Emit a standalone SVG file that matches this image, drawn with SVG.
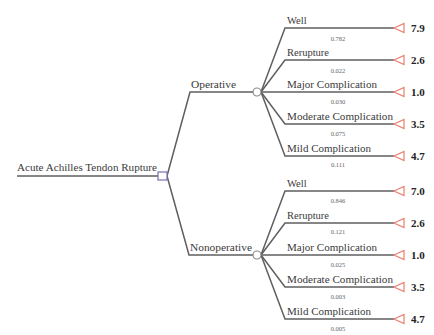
<svg xmlns="http://www.w3.org/2000/svg" width="434" height="335" viewBox="0 0 434 335">
<style>
.ln{fill:none;stroke:#5f5f5f;stroke-width:1.5}
.lbl{font-family:"Liberation Serif",serif;font-size:10.5px;fill:#3a3a3a}
.pr{font-family:"Liberation Serif",serif;font-size:6.5px;fill:#666;text-anchor:middle}
.val{font-family:"Liberation Serif",serif;font-size:11px;font-weight:bold;fill:#222}
.term{fill:#fff;stroke:#e8806f;stroke-width:1.2}
.chance{fill:#fff;stroke:#888;stroke-width:1.2}
.dec{fill:#fff;stroke:#7a6fb0;stroke-width:1.2}
</style>
<rect width="434" height="335" fill="#fff"/>
<g id="connectors">
<path class="ln" d="M17 176H158"/>
<path class="ln" d="M167 176L190 92H253"/>
<path class="ln" d="M167 176L189 255H253"/>
<path class="ln" d="M261 92L285 28H394"/>
<path class="ln" d="M261 92L285 60H394"/>
<path class="ln" d="M261 92H394"/>
<path class="ln" d="M261 92L285 124H394"/>
<path class="ln" d="M261 92L285 156H394"/>
<path class="ln" d="M261 255L285 191H394"/>
<path class="ln" d="M261 255L285 223H394"/>
<path class="ln" d="M261 255H394"/>
<path class="ln" d="M261 255L285 287H394"/>
<path class="ln" d="M261 255L285 319H394"/>
</g>
<g id="root">
<text class="lbl" x="17" y="171" textLength="140" lengthAdjust="spacingAndGlyphs">Acute Achilles Tendon Rupture</text>
<rect class="dec" x="158" y="172" width="9" height="8"/>
</g>
<g id="operative">
<text class="lbl" x="191" y="88" textLength="45" lengthAdjust="spacingAndGlyphs">Operative</text>
<circle class="chance" cx="257" cy="92" r="4"/>
</g>
<g id="nonoperative">
<text class="lbl" x="190" y="251" textLength="62" lengthAdjust="spacingAndGlyphs">Nonoperative</text>
<circle class="chance" cx="257" cy="255" r="4"/>
</g>
<g id="op-well">
<text class="lbl" x="287" y="24">Well</text>
<text class="pr" x="338" y="41">0.782</text>
<polygon class="term" points="394,28 404,23.5 404,32.5"/>
<text class="val" x="411" y="32">7.9</text>
</g>
<g id="op-rerupture">
<text class="lbl" x="287" y="56">Rerupture</text>
<text class="pr" x="338" y="73">0.022</text>
<polygon class="term" points="394,60 404,55.5 404,64.5"/>
<text class="val" x="411" y="64">2.6</text>
</g>
<g id="op-major">
<text class="lbl" x="287" y="88" textLength="90" lengthAdjust="spacingAndGlyphs">Major Complication</text>
<text class="pr" x="338" y="104">0.030</text>
<polygon class="term" points="394,92 404,87.5 404,96.5"/>
<text class="val" x="411" y="96">1.0</text>
</g>
<g id="op-moderate">
<text class="lbl" x="287" y="120" textLength="106" lengthAdjust="spacingAndGlyphs">Moderate Complication</text>
<text class="pr" x="338" y="136">0.075</text>
<polygon class="term" points="394,124 404,119.5 404,128.5"/>
<text class="val" x="411" y="128">3.5</text>
</g>
<g id="op-mild">
<text class="lbl" x="287" y="152" textLength="84" lengthAdjust="spacingAndGlyphs">Mild Complication</text>
<text class="pr" x="338" y="167">0.111</text>
<polygon class="term" points="394,156 404,151.5 404,160.5"/>
<text class="val" x="411" y="160">4.7</text>
</g>
<g id="nop-well">
<text class="lbl" x="287" y="187">Well</text>
<text class="pr" x="338" y="203">0.846</text>
<polygon class="term" points="394,191 404,186.5 404,195.5"/>
<text class="val" x="411" y="195">7.0</text>
</g>
<g id="nop-rerupture">
<text class="lbl" x="287" y="219">Rerupture</text>
<text class="pr" x="338" y="234">0.121</text>
<polygon class="term" points="394,223 404,218.5 404,227.5"/>
<text class="val" x="411" y="227">2.6</text>
</g>
<g id="nop-major">
<text class="lbl" x="287" y="251" textLength="90" lengthAdjust="spacingAndGlyphs">Major Complication</text>
<text class="pr" x="338" y="267">0.025</text>
<polygon class="term" points="394,255 404,250.5 404,259.5"/>
<text class="val" x="411" y="259">1.0</text>
</g>
<g id="nop-moderate">
<text class="lbl" x="287" y="283" textLength="106" lengthAdjust="spacingAndGlyphs">Moderate Complication</text>
<text class="pr" x="338" y="299">0.003</text>
<polygon class="term" points="394,287 404,282.5 404,291.5"/>
<text class="val" x="411" y="291">3.5</text>
</g>
<g id="nop-mild">
<text class="lbl" x="287" y="315" textLength="84" lengthAdjust="spacingAndGlyphs">Mild Complication</text>
<text class="pr" x="338" y="331">0.005</text>
<polygon class="term" points="394,319 404,314.5 404,323.5"/>
<text class="val" x="411" y="323">4.7</text>
</g>
</svg>
